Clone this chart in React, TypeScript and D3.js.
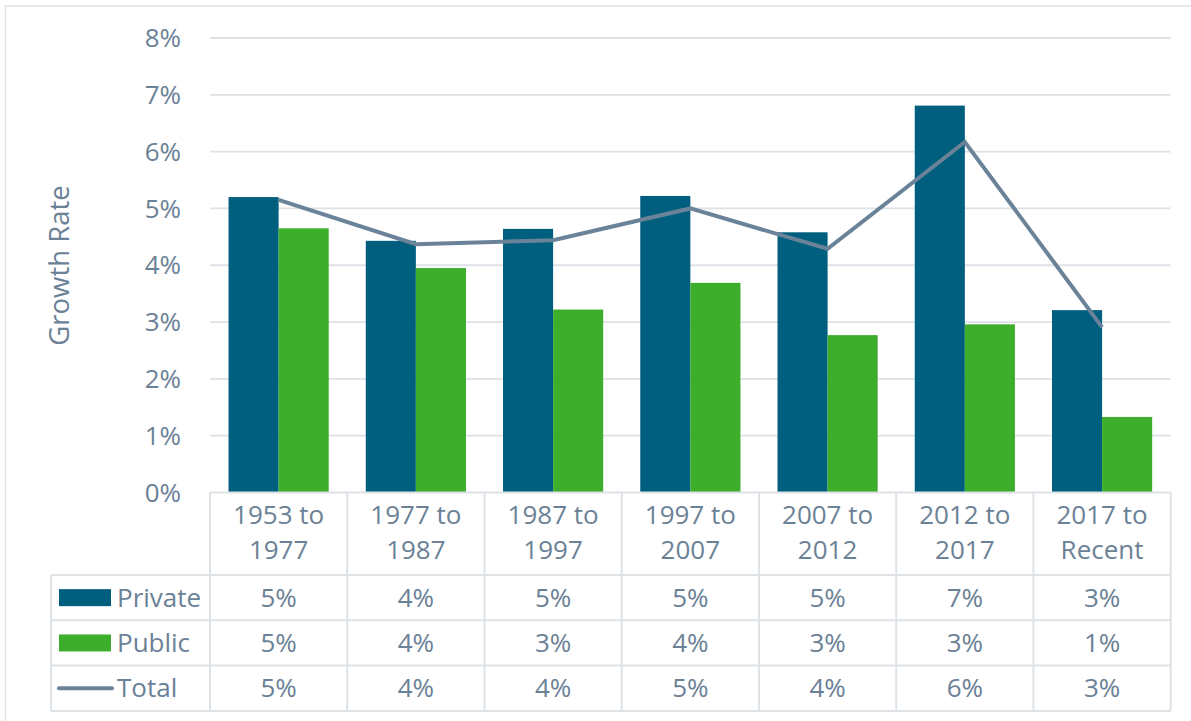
import * as d3 from 'd3';
import React from 'react';

const categories = [
  ['1953 to', '1977'],
  ['1977 to', '1987'],
  ['1987 to', '1997'],
  ['1997 to', '2007'],
  ['2007 to', '2012'],
  ['2012 to', '2017'],
  ['2017 to', 'Recent'],
];
const privateRates = [5.2, 4.43, 4.64, 5.22, 4.58, 6.81, 3.21];
const publicRates = [4.65, 3.95, 3.22, 3.69, 2.77, 2.96, 1.33];
const totalRates = [5.15, 4.37, 4.44, 5.0, 4.29, 6.17, 2.91];
const yTicks = [0, 1, 2, 3, 4, 5, 6, 7, 8];

const seriesNames = ['Private', 'Public'];
const colors = { Private: '#005e7e', Public: '#3dae2b', Total: '#6b8399' };
const textColor = '#6b8196';
const gridColor = '#dde2e7';
const font = '"Open Sans", "Noto Sans", sans-serif';

export default function App() {
  const width = 1191;
  const height = 721;
  const left = 210;
  const right = 1170.7;
  const top = 38;
  const bottom = 492.5;
  const headerBottom = 575;
  const rowH = 45.3;
  const legendLeft = 51;
  const fs = 26;

  const keys = categories.map((c) => c.join(' '));
  const x0 = d3.scaleBand().domain(keys).range([left, right]).padding(0);
  const x1 = d3.scaleBand().domain(seriesNames).range([0, x0.bandwidth()]).paddingInner(0).paddingOuter(0.37);
  const y = d3.scaleLinear().domain([0, 8]).range([bottom, top]);

  const line = d3.line<number>()
    .x((_, i) => (x0(keys[i]) as number) + x0.bandwidth() / 2)
    .y((d) => y(d));

  const rows = [
    { name: 'Private', values: privateRates },
    { name: 'Public', values: publicRates },
    { name: 'Total', values: totalRates },
  ];
  const fmt = (v: number) => `${Math.round(v)}%`;

  return (
    <svg width={width} height={height} style={{ position: 'absolute', left: 0, top: 0, display: 'block', background: '#fff' }} fontFamily={font}>
      <rect x={5.5} y={6} width={1300} height={800} fill="none" stroke={gridColor} strokeWidth={1.5} />

      {/* gridlines + y ticks */}
      {yTicks.map((t) => (
        <g key={t}>
          {t > 0 && <line x1={left} x2={right} y1={y(t)} y2={y(t)} stroke={gridColor} strokeWidth={1.8} />}
          <text x={181} y={y(t)} dy="0.35em" textAnchor="end" fontSize={fs} fill={textColor}>{t}%</text>
        </g>
      ))}

      <text transform={`translate(69,265.5) rotate(-90)`} textAnchor="middle" fontSize={27.5} fill={textColor}>Growth Rate</text>

      {/* bars */}
      {keys.map((k, i) => (
        <g key={k} transform={`translate(${x0(k)},0)`}>
          {seriesNames.map((s) => {
            const v = s === 'Private' ? privateRates[i] : publicRates[i];
            return (
              <rect key={s} x={x1(s)} y={y(v)} width={x1.bandwidth()} height={y(0) - y(v)} fill={(colors as any)[s]} />
            );
          })}
        </g>
      ))}

      <path d={line(totalRates) || ''} fill="none" stroke={colors.Total} strokeWidth={4} />

      {/* data table */}
      <g stroke={gridColor} strokeWidth={2} fill="none">
        <line x1={left} x2={right} y1={bottom} y2={bottom} />
        {rows.map((_, r) => (
          <line key={r} x1={legendLeft} x2={right} y1={headerBottom + r * rowH} y2={headerBottom + r * rowH} />
        ))}
        <line x1={legendLeft} x2={right} y1={headerBottom + 3 * rowH} y2={headerBottom + 3 * rowH} />
        <line x1={legendLeft} x2={legendLeft} y1={headerBottom} y2={headerBottom + 3 * rowH} />
        {keys.map((k) => (
          <line key={k} x1={x0(k)} x2={x0(k)} y1={bottom} y2={headerBottom + 3 * rowH} />
        ))}
        <line x1={right} x2={right} y1={bottom} y2={headerBottom + 3 * rowH} />
      </g>

      {keys.map((k, i) => (
        <text key={k} x={(x0(k) as number) + x0.bandwidth() / 2} textAnchor="middle" fontSize={fs} fill={textColor}>
          <tspan x={(x0(k) as number) + x0.bandwidth() / 2} y={524}>{categories[i][0]}</tspan>
          <tspan x={(x0(k) as number) + x0.bandwidth() / 2} y={559}>{categories[i][1]}</tspan>
        </text>
      ))}

      {rows.map((row, r) => {
        const cy = headerBottom + r * rowH + rowH / 2;
        return (
          <g key={row.name}>
            {row.name === 'Total' ? (
              <line x1={59} x2={112} y1={cy} y2={cy} stroke={colors.Total} strokeWidth={4} strokeLinecap="round" />
            ) : (
              <rect x={59} y={cy - 8.5} width={52} height={17} fill={(colors as any)[row.name]} />
            )}
            <text x={117} y={cy} dy="0.35em" fontSize={fs} fill={textColor}>{row.name}</text>
            {row.values.map((v, i) => (
              <text key={i} x={(x0(keys[i]) as number) + x0.bandwidth() / 2} y={cy} dy="0.35em" textAnchor="middle" fontSize={fs} fill={textColor}>
                {fmt(v)}
              </text>
            ))}
          </g>
        );
      })}
    </svg>
  );
}
